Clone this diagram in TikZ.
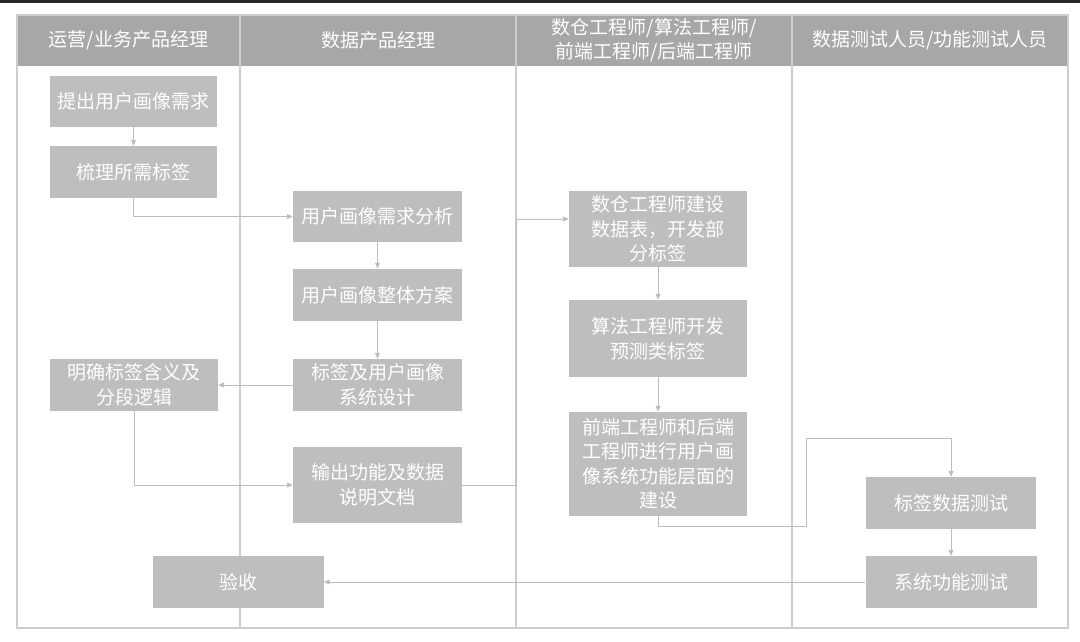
\documentclass[tikz,border=0pt]{standalone}
\usepackage{fontspec}
\setmainfont{Noto Sans CJK SC}
\usetikzlibrary{arrows.meta}
\definecolor{headgray}{HTML}{A7A7A7}
\definecolor{boxgray}{HTML}{BEBEBE}
\definecolor{linegray}{HTML}{BDBDBD}
\definecolor{framegray}{HTML}{CDCDCD}
\begin{document}
\begin{tikzpicture}[x=1pt,y=-1pt,
  task/.style={fill=boxgray,text=white,align=center,inner sep=0pt,
    minimum width=169pt,minimum height=52pt,font=\fontsize{19}{24.5}\selectfont},
  lanetitle/.style={text=white,align=center,font=\fontsize{19}{24}\selectfont},
  flow/.style={draw=linegray,line width=0.9pt,-{Triangle[length=6pt,width=5pt]}},
  frame/.style={draw=framegray,line width=1.3pt}]
  \useasboundingbox (0,0) rectangle (1080,641);
  \fill[black!85] (0,0) rectangle (1080,2.5);
  \fill[headgray] (17,15) rectangle (1068,66);
  \draw[frame] (17,15) rectangle (1068,628);
  \draw[frame] (240,15)--(240,628);
  \draw[frame] (516,15)--(516,628);
  \draw[frame] (792,15)--(792,628);

  \node[lanetitle] (lane1) at (128.5,40.5) {运营/业务产品经理};
  \node[lanetitle] (lane2) at (378,40.5) {数据产品经理};
  \node[lanetitle] (lane3) at (654,40.5) {数仓工程师/算法工程师/\\前端工程师/后端工程师};
  \node[lanetitle] (lane4) at (930,40.5) {数据测试人员/功能测试人员};

  \node[task,minimum width=167pt,minimum height=51pt] (tichu) at (133.5,101.5) {提出用户画像需求};
  \node[task,minimum width=167pt] (shuli) at (133.5,172) {梳理所需标签};
  \node[task,minimum width=168pt] (mingque) at (134,385) {明确标签含义及\\分段逻辑};
  \node[task,minimum width=171pt] (yanshou) at (238,582) {验收};

  \node[task,minimum height=51pt] (fenxi) at (377.5,216.5) {用户画像需求分析};
  \node[task] (fangan) at (377.5,295) {用户画像整体方案};
  \node[task] (sheji) at (377.5,385) {标签及用户画像\\系统设计};
  \node[task,minimum height=76pt] (shuchu) at (377.5,485) {输出功能及数据\\说明文档};

  \node[task,minimum width=178pt,minimum height=76pt] (shucang) at (658,229) {数仓工程师建设\\数据表，开发部\\分标签};
  \node[task,minimum width=178pt,minimum height=77pt] (suanfa) at (658,338.5) {算法工程师开发\\预测类标签};
  \node[task,minimum width=178pt,minimum height=104pt] (qianduan) at (658,464) {前端工程师和后端\\工程师进行用户画\\像系统功能层面的\\建设};

  \node[task,minimum width=170pt] (biaoqian) at (951,503) {标签数据测试};
  \node[task,minimum width=171pt] (xitong) at (951,582) {系统功能测试};

  \coordinate (up1) at (516,219);
  \coordinate (jog1) at (806,526);
  \coordinate (jog2) at (806,438);

  \draw[flow] (tichu) -- (shuli);
  \draw[flow] (shuli.south) |- (fenxi.west);
  \draw[flow] (fenxi) -- (fangan);
  \draw[flow] (fangan) -- (sheji);
  \draw[flow] (sheji.west) -- (mingque.east);
  \draw[flow] (mingque.south) |- (shuchu.west);
  \draw[flow] (shuchu.east) -| (up1) -- (up1 -| shucang.west);
  \draw[flow] (shucang) -- (suanfa);
  \draw[flow] (suanfa) -- (qianduan);
  \draw[flow] (qianduan.south) |- (jog1) -- (jog2) -| (biaoqian.north);
  \draw[flow] (biaoqian) -- (xitong);
  \draw[flow] (xitong.west) -- (yanshou.east);
\end{tikzpicture}
\end{document}
